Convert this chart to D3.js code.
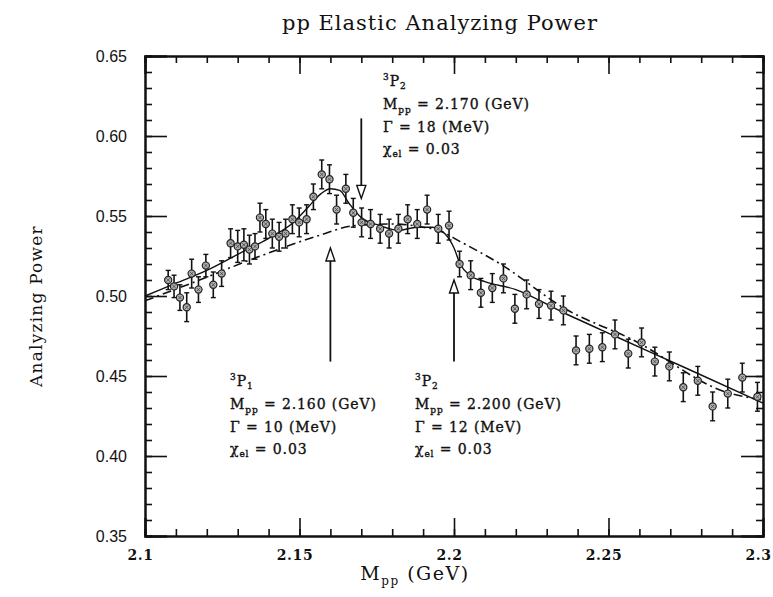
<!DOCTYPE html>
<html>
<head>
<meta charset="utf-8">
<script src="https://cdnjs.cloudflare.com/ajax/libs/d3/7.8.5/d3.min.js"></script>
<style>
  body { margin: 0; background: white; }
  svg { display: block; }
</style>
</head>
<body>
<script>
var mpp = [2.1075, 2.1094, 2.1113, 2.1135, 2.1151, 2.1173, 2.1197, 2.1221, 2.1248, 2.1277,
           2.1300, 2.1320, 2.1338, 2.1356, 2.1372, 2.1391, 2.1412, 2.1434, 2.1455, 2.1477,
           2.1499, 2.1523, 2.1545, 2.1572, 2.1597, 2.1620, 2.1650, 2.1674, 2.1701, 2.1730,
           2.1761, 2.1790, 2.1820, 2.1850, 2.1881, 2.1913, 2.1949, 2.1984, 2.2018, 2.2054,
           2.2087, 2.2124, 2.2160, 2.2197, 2.2235, 2.2275, 2.2314, 2.2354, 2.2395, 2.2438,
           2.2480, 2.2521, 2.2564, 2.2607, 2.2650, 2.2697, 2.2742, 2.2789, 2.2837, 2.2886,
           2.2933, 2.2982]
var power = [0.510, 0.506, 0.499, 0.493, 0.514, 0.504, 0.519, 0.507, 0.514, 0.533,
             0.531, 0.532, 0.529, 0.531, 0.549, 0.545, 0.539, 0.537, 0.539, 0.548,
             0.546, 0.548, 0.562, 0.576, 0.573, 0.554, 0.567, 0.552, 0.546, 0.545,
             0.542, 0.539, 0.542, 0.548, 0.545, 0.554, 0.542, 0.544, 0.520, 0.513,
             0.502, 0.505, 0.511, 0.492, 0.501, 0.495, 0.494, 0.491, 0.466, 0.467,
             0.468, 0.476, 0.464, 0.471, 0.459, 0.456, 0.443, 0.447, 0.431, 0.439,
             0.449, 0.437]
var errors = [0.006, 0.007, 0.008, 0.009, 0.009, 0.008, 0.007, 0.008, 0.008, 0.009,
              0.010, 0.010, 0.009, 0.008, 0.009, 0.009, 0.009, 0.009, 0.009, 0.009,
              0.009, 0.009, 0.008, 0.009, 0.009, 0.009, 0.009, 0.009, 0.009, 0.009,
              0.009, 0.009, 0.009, 0.009, 0.009, 0.009, 0.009, 0.009, 0.008, 0.009,
              0.009, 0.009, 0.009, 0.009, 0.009, 0.009, 0.009, 0.009, 0.009, 0.009,
              0.009, 0.009, 0.009, 0.009, 0.009, 0.009, 0.009, 0.009, 0.009, 0.009,
              0.009, 0.009]

// fit with resonances (solid)
var fitX = [2.100, 2.110, 2.120, 2.130, 2.140, 2.148, 2.153, 2.157, 2.160, 2.163, 2.166, 2.170,
            2.176, 2.182, 2.188, 2.193, 2.197, 2.200, 2.202, 2.205, 2.210, 2.220, 2.235, 2.252,
            2.275, 2.300]
var fitY = [0.500, 0.508, 0.516, 0.526, 0.536, 0.546, 0.556, 0.564, 0.567, 0.566, 0.558, 0.549,
            0.544, 0.541, 0.543, 0.543, 0.539, 0.530, 0.520, 0.513, 0.509, 0.504, 0.490, 0.475,
            0.455, 0.433]
// background without resonances (dash-dot)
var bgX = [2.100, 2.115, 2.136, 2.155, 2.168, 2.180, 2.190, 2.195, 2.202, 2.215, 2.236, 2.258,
           2.288, 2.300]
var bgY = [0.497, 0.508, 0.524, 0.537, 0.544, 0.545, 0.543, 0.541, 0.534, 0.520, 0.492, 0.4725,
           0.440, 0.435]

// arrows: x position, tip, tail
var arrowX = [2.160, 2.170, 2.200]
var arrowTip = [0.530, 0.561, 0.510]
var arrowTail = [0.459, 0.611, 0.459]

var xTicks = [2.1, 2.15, 2.2, 2.25, 2.3]
var xTickLabels = ["2.1", "2.15", "2.2", "2.25", "2.3"]
var yTicks = [0.35, 0.40, 0.45, 0.50, 0.55, 0.60, 0.65]

var margin = {left: 145, top: 56, right: 10, bottom: 61}
var W = 773, H = 597
var w = 763 - margin.left, h = 536 - margin.top

var svg = d3.select("body").append("svg").attr("width", W).attr("height", H)
var g = svg.append("g").attr("transform", "translate(" + margin.left + "," + margin.top + ")")

var x = d3.scaleLinear().domain([2.1, 2.3]).range([0, w])
var y = d3.scaleLinear().domain([0.35, 0.65]).range([h, 0])

var serif = "'DejaVu Serif', serif"

// axes: major + minor ticks on all four sides, pointing inward
var minorX = d3.range(0, 21).map(function(i) { return 2.1 + i * 0.01 })
var minorY = d3.range(0, 31).map(function(i) { return 0.35 + i * 0.01 })

function addAxis(axis, transform) {
  var a = g.append("g").attr("transform", transform).call(axis)
  a.select(".domain").attr("stroke", "#111").attr("stroke-width", 2)
  a.selectAll(".tick line").attr("stroke", "#111").attr("stroke-width", 1.6)
  return a
}

addAxis(d3.axisBottom(x).tickValues(minorX).tickSize(-7).tickFormat(""), "translate(0," + h + ")")
addAxis(d3.axisTop(x).tickValues(minorX).tickSize(-7).tickFormat(""), "translate(0,0)")
addAxis(d3.axisLeft(y).tickValues(minorY).tickSize(-7).tickFormat(""), "translate(0,0)")
addAxis(d3.axisRight(y).tickValues(minorY).tickSize(-7).tickFormat(""), "translate(" + w + ",0)")

var xb = addAxis(d3.axisBottom(x).tickValues(xTicks).tickSize(-18)
           .tickFormat(function(d, i) { return xTickLabels[i] }), "translate(0," + h + ")")
xb.selectAll("text").attr("font-family", serif).attr("font-size", 14).attr("font-weight", "bold")
  .attr("letter-spacing", 0.6).attr("fill", "#111").attr("dy", "0").attr("y", 24).attr("x", -5)
addAxis(d3.axisTop(x).tickValues(xTicks).tickSize(-18).tickFormat(""), "translate(0,0)")

var yl = addAxis(d3.axisLeft(y).tickValues(yTicks).tickSize(-22)
           .tickFormat(d3.format(".2f")), "translate(0,0)")
yl.selectAll("text").attr("font-family", "'Liberation Sans', Arial, sans-serif").attr("font-size", 16)
  .attr("fill", "#111").attr("x", -18)
addAxis(d3.axisRight(y).tickValues(yTicks).tickSize(-22).tickFormat(""), "translate(" + w + ",0)")

// curves
var line = d3.line().x(function(d) { return x(d[0]) }).y(function(d) { return y(d[1]) })
  .curve(d3.curveMonotoneX)

g.append("path").datum(d3.zip(bgX, bgY)).attr("d", line)
  .attr("fill", "none").attr("stroke", "#111").attr("stroke-width", 1.6)
  .attr("stroke-dasharray", "9,4,2,4")
g.append("path").datum(d3.zip(fitX, fitY)).attr("d", line)
  .attr("fill", "none").attr("stroke", "#111").attr("stroke-width", 1.4)

// data with error bars
var pts = g.append("g").selectAll("g").data(d3.range(mpp.length)).enter().append("g")
pts.append("line")
  .attr("x1", function(i) { return x(mpp[i]) }).attr("x2", function(i) { return x(mpp[i]) })
  .attr("y1", function(i) { return y(power[i] - errors[i]) })
  .attr("y2", function(i) { return y(power[i] + errors[i]) })
  .attr("stroke", "#111").attr("stroke-width", 1.6)
pts.selectAll(".cap").data(function(i) { return [[i, -1], [i, 1]] }).enter().append("line")
  .attr("x1", function(d) { return x(mpp[d[0]]) - 2.5 }).attr("x2", function(d) { return x(mpp[d[0]]) + 2.5 })
  .attr("y1", function(d) { return y(power[d[0]] + d[1] * errors[d[0]]) })
  .attr("y2", function(d) { return y(power[d[0]] + d[1] * errors[d[0]]) })
  .attr("stroke", "#111").attr("stroke-width", 1.4)
pts.append("circle")
  .attr("cx", function(i) { return x(mpp[i]) }).attr("cy", function(i) { return y(power[i]) })
  .attr("r", 3.6).attr("fill", "#b0b0b0").attr("stroke", "#222").attr("stroke-width", 1.2)
// small cross inside each marker, like the scan
pts.append("path")
  .attr("d", function(i) {
    var cx = x(mpp[i]), cy = y(power[i])
    return "M" + (cx - 1.8) + "," + (cy - 1.8) + "L" + (cx + 1.8) + "," + (cy + 1.8) +
           "M" + (cx - 1.8) + "," + (cy + 1.8) + "L" + (cx + 1.8) + "," + (cy - 1.8)
  })
  .attr("stroke", "#444").attr("stroke-width", 0.8)

// arrows with hollow heads
for (var i = 0; i < arrowX.length; i++) {
  var ax = x(arrowX[i]), tip = y(arrowTip[i]), tail = y(arrowTail[i])
  var dir = tail > tip ? 1 : -1  // 1: pointing up
  var headLen = 13
  var base = tip + dir * headLen
  g.append("line").attr("x1", ax).attr("x2", ax).attr("y1", tail).attr("y2", base)
    .attr("stroke", "#111").attr("stroke-width", 1.8)
  g.append("path").attr("d", "M" + ax + "," + tip + "L" + (ax - 4.5) + "," + base +
      "L" + (ax + 4.5) + "," + base + "Z")
    .attr("fill", "white").attr("stroke", "#111").attr("stroke-width", 1.4)
}

// annotation blocks
function addLabel(px, py, wave, mass, width) {
  var t = g.append("g").attr("transform", "translate(" + px + "," + py + ")")
    .attr("font-family", serif).attr("font-size", 14).attr("fill", "#111")
    .attr("stroke", "#111").attr("stroke-width", 0.35)
    .attr("letter-spacing", 0.9)
  var a = t.append("text").attr("x", 0).attr("y", 0)
  a.append("tspan").text("3").attr("font-size", 9).attr("dy", -6)
  a.append("tspan").text("P").attr("dy", 6)
  a.append("tspan").text(wave).attr("font-size", 9).attr("dy", 3)
  var b = t.append("text").attr("x", 0).attr("y", 23)
  b.append("tspan").text("M")
  b.append("tspan").text("pp").attr("font-size", 9).attr("dy", 4)
  b.append("tspan").text(" = " + mass + " (GeV)").attr("dy", -4)
  t.append("text").attr("x", 0).attr("y", 46).text("\u0393 = " + width + " (MeV)")
  var c = t.append("text").attr("x", 0).attr("y", 68)
  c.append("tspan").text("\u03c7")
  c.append("tspan").text("el").attr("font-size", 9).attr("dy", 3)
  c.append("tspan").text(" = 0.03").attr("dy", -3)
}
addLabel(383 - margin.left, 86 - margin.top, "2", "2.170", "18")
addLabel(230 - margin.left, 386 - margin.top, "1", "2.160", "10")
addLabel(415 - margin.left, 386 - margin.top, "2", "2.200", "12")

// titles
svg.append("text").attr("x", 440).attr("y", 30).attr("text-anchor", "middle")
  .attr("font-family", serif).attr("font-size", 21).attr("letter-spacing", 1).attr("fill", "#111")
  .text("pp Elastic Analyzing Power")

svg.append("text").attr("transform", "translate(42," + (margin.top + h / 2 + 10) + ") rotate(-90)")
  .attr("text-anchor", "middle").attr("font-family", serif).attr("font-size", 17)
  .attr("letter-spacing", 1.2).attr("fill", "#111").text("Analyzing Power")

var xl = svg.append("text").attr("x", 415).attr("y", 580).attr("text-anchor", "middle")
  .attr("font-family", serif).attr("font-size", 19).attr("letter-spacing", 1.5).attr("fill", "#111")
xl.append("tspan").text("M")
xl.append("tspan").text("pp").attr("font-size", 12).attr("dy", 5)
xl.append("tspan").text(" (GeV)").attr("dy", -5)
</script>
</body>
</html>
